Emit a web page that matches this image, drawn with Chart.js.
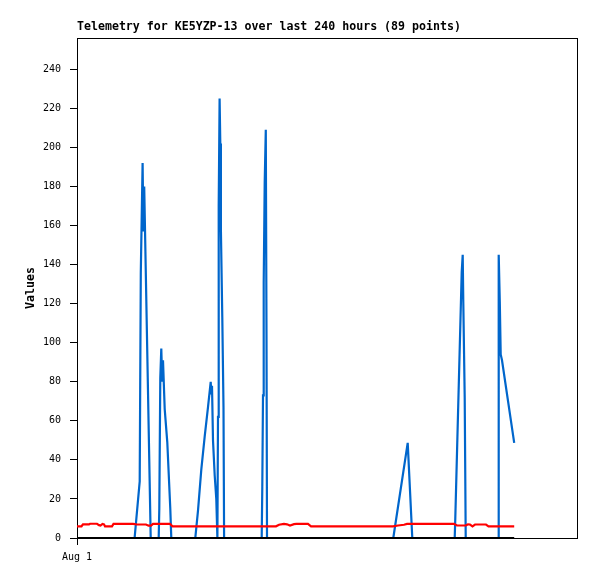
<!DOCTYPE html>
<html><head><meta charset="utf-8">
<script src="https://cdn.jsdelivr.net/npm/chart.js@4.4.1/dist/chart.umd.min.js"></script>
<style>html,body{margin:0;padding:0;background:#fff}</style>
</head><body>
<canvas id="c" width="597" height="579"></canvas>
<script>
const titleText = 'Telemetry for KE5YZP-13 over last 240 hours (89 points)';
const yAxisTitle = 'Values';
const yTickValues = [0,20,40,60,80,100,120,140,160,180,200,220,240];
const xTickValues = [0];
const xTickLabels = ['Aug 1'];

// hours since start of window
const blueHours = [0,27.65,30.1,30.62,31.49,31.87,32.26,35.38,
  39.22,39.5,39.98,40.46,40.9,41.28,42.1,43.34,44.78,45.26,
  56.78,58.08,59.66,61.3,62.88,64.18,64.46,64.8,65.28,66.1,66.86,67.39,
  67.68,68.02,68.45,68.78,69.07,69.74,70.32,70.61,
  88.66,88.94,89.28,89.62,90.1,90.62,90.96,91.2,
  151.82,158.74,160.94,
  181.3,181.58,184.66,185.14,185.42,186.1,186.58,
  202.22,202.42,202.94,203.38,204,209.86];
const blueValues = [0,0,29,136,192,157,180,0,
  0,15,82,97,80,91,66,49,15,0,
  0,14,35,52,67,80,74,78,50,32,20,0,
  62,170,225,202,158,113,67,0,
  0,26,73,131,182,209,104,0,
  0,48.7,0,
  0,10,136,145,121,72,0,
  0,145,121,94,91,48.7];

const redHours = [0,2.16,2.88,5.76,6.24,9.6,10.56,11.28,12.24,12.96,13.44,16.8,17.52,26.88,28.8,33.12,34.32,35.52,36.48,44.64,45.84,
  95.52,96.96,99.36,100.8,102.24,104.16,105.36,110.88,112.32,151.68,154.08,156.96,158.4,180.96,182.4,186.72,187.68,188.64,189.84,191.04,196.32,197.52,209.86];
const redValues = [6.0,6.0,7.0,7.0,7.3,7.3,6.6,6.4,7.2,7.0,6.0,6.0,7.2,7.2,6.9,6.9,6.3,6.3,7.2,7.2,6.0,
  6.0,6.8,7.2,7.0,6.4,7.1,7.2,7.2,6.0,6.0,6.4,6.8,7.2,7.2,6.4,6.5,7.0,6.9,6.0,6.9,6.9,6.0,6.0];

const blackHours = [0,209.86];
const blackValues = [0,0];

function pts(xs, ys){ return xs.map((x,i)=>({x:x, y:ys[i]})); }

const mono = '"DejaVu Sans Mono", "Liberation Mono", monospace';

const frame = {
  id: 'frame',
  beforeDatasetsDraw(chart){
    const {ctx, chartArea:a} = chart;
    ctx.save();
    ctx.strokeStyle = '#000';
    ctx.lineWidth = 1;
    ctx.strokeRect(Math.round(a.left)+0.5, Math.round(a.top)+0.5, Math.round(a.right)-Math.round(a.left), Math.round(a.bottom)-Math.round(a.top));
    ctx.restore();
  }
};

new Chart(document.getElementById('c'), {
  type: 'line',
  data: {
    datasets: [
      {data: pts(blackHours, blackValues), borderColor:'#000000', borderWidth:2.2, pointRadius:0, tension:0},
      {data: pts(redHours, redValues), borderColor:'#ff0000', borderWidth:2.2, pointRadius:0, tension:0},
      {data: pts(blueHours, blueValues), borderColor:'#0066cc', borderWidth:2.2, pointRadius:0, tension:0}
    ]
  },
  options: {
    responsive: false,
    animation: false,
    events: [],
    layout: {padding: {left:0, right:20, top:0, bottom:0}},
    plugins: {
      legend: {display:false},
      tooltip: {enabled:false},
      title: {
        display: true, text: titleText, align: 'start', fullSize: false,
        color: '#000', font: {family: mono, size: 11.6, weight: 'bold', lineHeight: 1.2},
        padding: {top: 20.5, bottom: 3.6}
      }
    },
    scales: {
      x: {
        type: 'linear', min: 0, max: 240, position: 'bottom',
        afterFit: s => { s.height = 41; },
        afterBuildTicks: s => { s.ticks = xTickValues.map(v => ({value: v})); },
        ticks: {callback: (v, i) => xTickLabels[i], color:'#000', font:{family: mono, size:10}, maxRotation:0, autoSkip:false, padding:6},
        grid: {drawOnChartArea:false, drawTicks:true, tickLength:7, color:'#000'},
        border: {display:false}
      },
      y: {
        type: 'linear', min: 0, max: 256,
        afterFit: s => { s.width = 77; },
        afterBuildTicks: s => { s.ticks = yTickValues.map(v => ({value: v})); },
        ticks: {color:'#000', font:{family: mono, size:10}, padding:9},
        grid: {drawOnChartArea:false, drawTicks:true, tickLength:7, color:'#000'},
        border: {display:false},
        title: {display:true, text: yAxisTitle, color:'#000', font:{family: mono, size:11.6, weight:'bold', lineHeight:1.2}, padding:{top:24, bottom:0}}
      }
    }
  },
  plugins: [frame]
});
</script>
</body></html>
